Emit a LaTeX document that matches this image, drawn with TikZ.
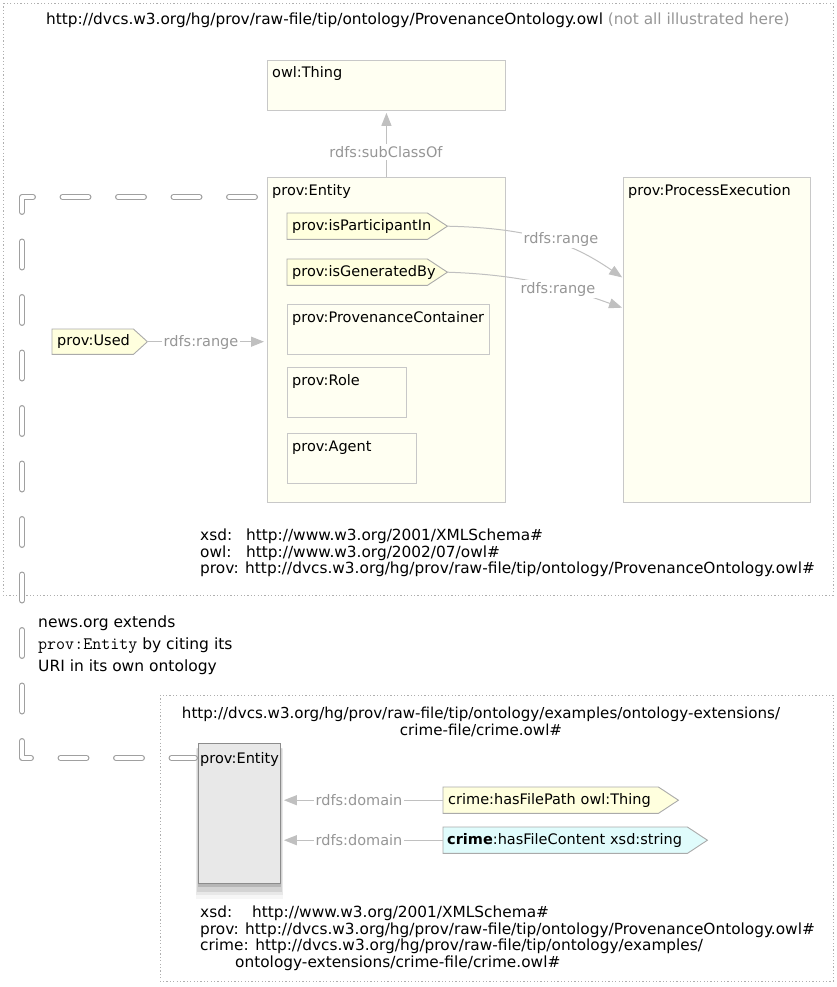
\documentclass[tikz,border=0pt]{standalone}
\usepackage{fontspec}
\setmainfont{DejaVu Sans}
\usetikzlibrary{arrows.meta,shadows}
\definecolor{clsfill}{RGB}{255,255,242}
\definecolor{clsdraw}{RGB}{200,200,200}
\definecolor{propfill}{RGB}{255,255,222}
\definecolor{propdraw}{RGB}{170,170,170}
\definecolor{cyanfill}{RGB}{224,252,252}
\definecolor{txtgray}{RGB}{150,150,150}
\definecolor{arrgray}{RGB}{192,192,192}
\definecolor{framegray}{RGB}{175,175,175}
\definecolor{dashgray}{RGB}{160,160,160}
\definecolor{entgray}{RGB}{232,232,232}
\definecolor{entdraw}{RGB}{140,140,140}
\pgfdeclarelayer{bg}\pgfdeclarelayer{mid}\pgfsetlayers{bg,mid,main}
\begin{document}
\begin{tikzpicture}[x=1pt,y=-1pt,
  nfont/.style={font=\fontsize{14.5}{17}\selectfont},
  tfont/.style={font=\fontsize{15.35}{16.5}\selectfont},
  cls/.style={draw=clsdraw, fill=clsfill, line width=0.9pt, anchor=north west, inner sep=0pt, label={[clstxt]north west:{#1}}},
  clstxt/.style={nfont, anchor=base west, inner sep=0pt, xshift=5pt, yshift=-18pt},
  prop/.style={nfont, anchor=north west, inner xsep=5pt, inner ysep=0pt, minimum height=26pt, text width=#1, align=left},
  pentline/.style={draw=propdraw, line width=0.9pt},
  rel/.style={nfont, text=txtgray, fill=white, inner sep=2pt},
  arr/.style={draw=arrgray, line width=1.2pt, -{Triangle[length=13pt,width=10pt]}, shorten >=3pt},
  curv/.style={draw=arrgray, line width=1pt},
  frame/.style={draw=framegray, line width=0.9pt, dash pattern=on 1.2pt off 2.2pt},
  bigdash/.style={draw=dashgray, line width=1.3pt, double=white, double distance=3.4pt, line cap=round, line join=round, dash pattern=on 26pt off 29.5pt}
]
\useasboundingbox (0,0) rectangle (836,987);

\begin{pgfonlayer}{bg}
  \draw[frame] (3,3) rectangle (833,595);
  \draw[frame] (160,695) rectangle (833,981);
  % class boxes
  \node[cls={owl:Thing}, minimum width=238pt, minimum height=50pt] (thing) at (267,60) {};
  \node[cls={prov:Entity}, minimum width=238pt, minimum height=325pt] (ent) at (267,177) {};
  \node[cls={prov:ProcessExecution}, minimum width=187pt, minimum height=325pt] (pe) at (623,177) {};
  \node[cls={prov:ProvenanceContainer}, minimum width=202pt, minimum height=50pt] (pc) at (287,304) {};
  \node[cls={prov:Role}, minimum width=119pt, minimum height=50pt] (role) at (287,367) {};
  \node[cls={prov:Agent}, minimum width=129pt, minimum height=50pt] (agent) at (287,433) {};
  % big dashed connector corners
  \coordinate (k1) at (22,197);
  \coordinate (k2) at (22,758);
\end{pgfonlayer}

% property nodes (text)
\node[prop=130pt] (pi) at (287,213) {prov:isParticipantIn};
\node[prop=130pt] (pg) at (287,259) {prov:isGeneratedBy};
\node[prop=71pt, minimum height=25pt] (pu) at (52,329) {\mbox{prov:Used}};
\node[prop=205pt] (hp) at (443,787) {\mbox{crime:hasFilePath owl:Thing}};
\node[prop=236pt, inner xsep=4pt] (hc) at (443,827) {\mbox{\textbf{crime}:hasFileContent xsd:string}};

\begin{pgfonlayer}{bg}
  \node[draw=entdraw, fill=entgray, line width=0.9pt, anchor=north west, minimum width=82pt, minimum height=140pt, inner sep=0pt,
        drop shadow={shadow xshift=0pt, shadow yshift=-10pt, shadow scale=1.07, opacity=0.07},
        drop shadow={shadow xshift=0pt, shadow yshift=-8pt, shadow scale=1.05, opacity=0.12},
        drop shadow={shadow xshift=0pt, shadow yshift=-6pt, shadow scale=1.03, opacity=0.2},
        drop shadow={shadow xshift=0pt, shadow yshift=-3pt, shadow scale=1.01, opacity=0.35},
        label={[nfont, anchor=base west, inner sep=0pt, xshift=2pt, yshift=-20pt]north west:{prov:Entity}}] (lent) at (198,743) {};
  \draw[bigdash] ([xshift=-12pt,yshift=-20pt]ent.north west) -- (k1) -- (k2) -- ([xshift=-3pt,yshift=-15pt]lent.north west);
\end{pgfonlayer}

% relation labels
\node[rel] (sub) at (386,152) {rdfs:subClassOf};
\node[rel] (r0) at (201,342) {rdfs:range};
\node[rel] (r1) at (561,239) {rdfs:range};
\node[rel] (r2) at (558,289) {rdfs:range};
\node[rel] (d1) at (359,800) {rdfs:domain};
\node[rel] (d2) at (359,840) {rdfs:domain};

\begin{pgfonlayer}{mid}
  \path[pentline, fill=propfill] (pi.north west) -- (pi.north east) -- ([xshift=20pt]pi.east) -- (pi.south east) -- (pi.south west) -- cycle;
  \path[pentline, fill=propfill] (pg.north west) -- (pg.north east) -- ([xshift=20pt]pg.east) -- (pg.south east) -- (pg.south west) -- cycle;
  \path[pentline, fill=propfill] (pu.north west) -- (pu.north east) -- ([xshift=14pt]pu.east) -- (pu.south east) -- (pu.south west) -- cycle;
  \path[pentline, fill=propfill] (hp.north west) -- (hp.north east) -- ([xshift=20pt]hp.east) -- (hp.south east) -- (hp.south west) -- cycle;
  \path[pentline, fill=cyanfill] (hc.north west) -- (hc.north east) -- ([xshift=20pt]hc.east) -- (hc.south east) -- (hc.south west) -- cycle;
  % connectors
  \draw[arr, shorten >=2pt] (ent.north) -- (thing.south);
  \draw[arr] ([xshift=14pt]pu.east) -- (ent.west |- pu.east);
  \draw[curv, -{Triangle[length=13pt,width=10pt]}, shorten >=1pt] ([xshift=20pt]pi.east) .. controls (535,228) and (575,245) .. ([yshift=-101pt]pe.north west);
  \draw[curv, -{Triangle[length=13pt,width=10pt]}, shorten >=1pt] ([xshift=20pt]pg.east) .. controls (535,275) and (580,293) .. ([yshift=-131pt]pe.north west);
  \draw[arr] (hp.west) -- (lent.east |- hp.west);
  \draw[arr] (hc.west) -- (lent.east |- hc.west);
\end{pgfonlayer}

% texts
\node[tfont, anchor=base west, inner sep=0pt] (title) at (46,25) {http://dvcs.w3.org/hg/prov/raw-file/tip/ontology/ProvenanceOntology.owl {\color{txtgray}(not all illustrated here)}};
\node[tfont, anchor=north west, inner sep=0pt, align=left] (nsA) at (200,529) {\makebox[46pt][l]{xsd:}http://www.w3.org/2001/XMLSchema\#\\\makebox[46pt][l]{owl:}http://www.w3.org/2002/07/owl\#\\prov: http://dvcs.w3.org/hg/prov/raw-file/tip/ontology/ProvenanceOntology.owl\#};
\node[font=\fontsize{15.5}{22}\selectfont, anchor=north west, inner sep=0pt, align=left] (note) at (38,616) {news.org extends\\{\ttfamily\fontsize{17.5}{22}\selectfont prov:Entity} by citing its\\URI in its own ontology};
\node[font=\fontsize{15.1}{17}\selectfont, anchor=north, inner sep=0pt, align=center] (title2) at (481,707) {http://dvcs.w3.org/hg/prov/raw-file/tip/ontology/examples/ontology-extensions/\\crime-file/crime.owl\#};
\node[tfont, anchor=north west, inner sep=0pt, align=left] (nsB) at (200,906) {\makebox[52pt][l]{xsd:}http://www.w3.org/2001/XMLSchema\#\\prov: http://dvcs.w3.org/hg/prov/raw-file/tip/ontology/ProvenanceOntology.owl\#\\crime: http://dvcs.w3.org/hg/prov/raw-file/tip/ontology/examples/\\\hspace*{35pt}ontology-extensions/crime-file/crime.owl\#};
\end{tikzpicture}
\end{document}
